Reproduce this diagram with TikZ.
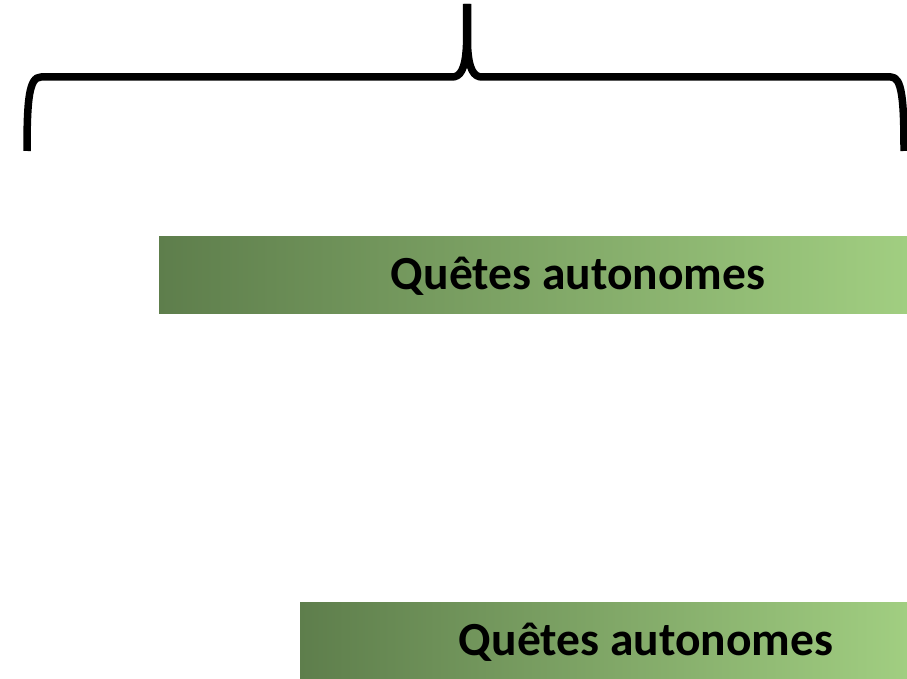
\documentclass[tikz,border=0pt]{standalone}
\usepackage{fontspec}
\setmainfont{Carlito}
\definecolor{bardark}{RGB}{94,126,76}
\definecolor{barlight}{RGB}{161,206,129}
\begin{document}
\begin{tikzpicture}[x=1pt,y=-1pt,
  bar/.style={left color=bardark,right color=barlight,draw=none},
  bartext/.style={font=\bfseries\fontsize{47.5}{56}\selectfont,text=black,inner sep=0pt,anchor=base},
  brace/.style={line width=7.5pt,line join=round}]
\useasboundingbox (0,0) rectangle (907,679);
% brace
\coordinate (bl) at (27,151);
\coordinate (br) at (904,151);
\coordinate (tipl) at (466.5,4);
\coordinate (tipr) at (467.5,4);
\draw[brace] (bl) .. controls (27,100) and (29,77) .. (41,77)
  -- (452,77) .. controls (460,77) and (465.5,70) .. (466.5,45) -- (tipl);
\draw[brace] (br) .. controls (904,100) and (902,77) .. (891,77)
  -- (482,77) .. controls (474,77) and (468.5,70) .. (467.5,45) -- (tipr);
% bars
\fill[bar] (159,236) rectangle (907,313);
\node[bartext] (q1) at (578,289) {Quêtes autonomes};
\fill[bar] (300,602) rectangle (907,679);
\node[bartext] (q2) at (646,655) {Quêtes autonomes};
\end{tikzpicture}
\end{document}
